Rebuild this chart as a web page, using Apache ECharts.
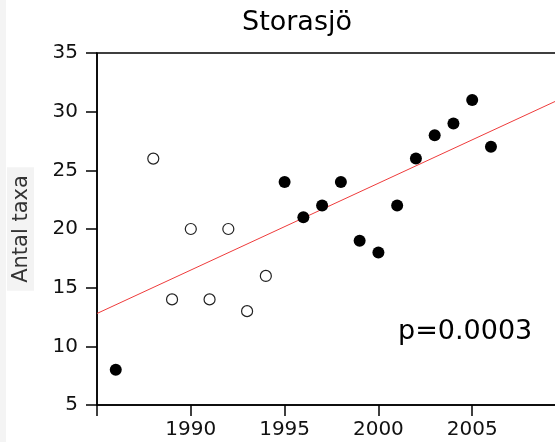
<!DOCTYPE html>
<html><head><meta charset="utf-8">
<script src="https://cdn.jsdelivr.net/npm/echarts@6/dist/echarts.min.js"></script>
<style>html,body{margin:0;padding:0;background:#fff}#c{width:555px;height:442px}</style>
</head><body><div id="c"></div>
<script>
var filledYears = [1986, 1995, 1996, 1997, 1998, 1999, 2000, 2001, 2002, 2003, 2004, 2005, 2006];
var filledValues = [8, 24, 21, 22, 24, 19, 18, 22, 26, 28, 29, 31, 27];
var openYears = [1988, 1989, 1990, 1991, 1992, 1993, 1994];
var openValues = [26, 14, 20, 14, 20, 13, 16];
var trendYears = [1985, 2010];
var trendValues = [12.8, 31.3];
var xTicks = [1985, 1990, 1995, 2000, 2005, 2010];
var xLabels = ['', '1990', '1995', '2000', '2005', ''];
var yTicks = [5, 10, 15, 20, 25, 30, 35];

function pairs(xs, ys) { return xs.map(function (x, i) { return [x, ys[i]]; }); }
var F = 'DejaVu Sans';
var chart = echarts.init(document.getElementById('c'));
chart.setOption({
  animation: false,
  backgroundColor: '#fff',
  graphic: [
    { type: 'rect', left: 0, top: 0, z: -10, shape: { width: 6, height: 442 }, style: { fill: '#f4f4f4' } },
    { type: 'text', x: 297, y: 9, style: { text: 'Storasjö', fontFamily: F, fontSize: 27, fill: '#000', textAlign: 'center', textVerticalAlign: 'top' } },
    { type: 'text', x: 398, y: 318, style: { text: 'p=0.0003', fontFamily: F, fontSize: 27, fill: '#000', textVerticalAlign: 'top' } }
  ],
  grid: { left: 97, top: 53, height: 352, width: 469, outerBoundsMode: 'none', containLabel: false,
    show: true, borderColor: '#000', borderWidth: 1.5 },
  xAxis: {
    type: 'value', min: xTicks[0], max: xTicks[xTicks.length - 1], interval: 5,
    splitLine: { show: false },
    axisLine: { lineStyle: { color: '#000', width: 1.5 } },
    axisTick: { length: 11, lineStyle: { color: '#000', width: 1.5 } },
    axisLabel: { fontFamily: F, fontSize: 20, color: '#111', margin: 15,
      formatter: function (v) { var i = xTicks.indexOf(v); return i < 0 ? '' : xLabels[i]; } }
  },
  yAxis: {
    type: 'value', min: yTicks[0], max: yTicks[yTicks.length - 1], interval: 5,
    splitLine: { show: false },
    axisLine: { lineStyle: { color: '#000', width: 1.5 } },
    axisTick: { length: 11, lineStyle: { color: '#000', width: 1.5 } },
    axisLabel: { fontFamily: F, fontSize: 20, color: '#111', margin: 19 },
    name: 'Antal taxa', nameLocation: 'middle', nameRotate: 90, nameGap: 63,
    nameTextStyle: { fontFamily: F, fontSize: 21, color: '#333', backgroundColor: '#f3f3f3', padding: [4, 8, 2, 8] }
  },
  series: [
    { type: 'line', data: pairs(trendYears, trendValues), showSymbol: false, symbol: 'none',
      lineStyle: { color: '#ee3b3b', width: 1 }, z: 1 },
    { type: 'scatter', data: pairs(openYears, openValues), symbolSize: 11,
      itemStyle: { color: '#fff', borderColor: '#222', borderWidth: 1.2, opacity: 1 }, z: 3 },
    { type: 'scatter', data: pairs(filledYears, filledValues), symbolSize: 12,
      itemStyle: { color: '#000', opacity: 1 }, z: 3 }
  ]
});
</script></body></html>
